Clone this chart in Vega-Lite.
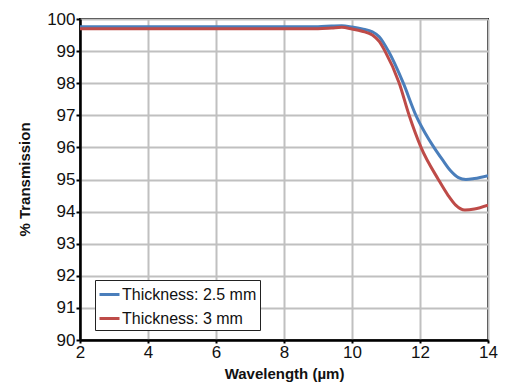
{
  "$schema": "https://vega.github.io/schema/vega-lite/v6.json",
  "width": 408,
  "height": 321,
  "autosize": "none",
  "padding": {"left": 80, "top": 19, "right": 17, "bottom": 43},
  "background": "white",
  "title": {
    "text": "BD-2 Internal Transmission",
    "frame": "group",
    "anchor": "middle",
    "baseline": "alphabetic",
    "offset": 16,
    "font": "Liberation Sans",
    "fontSize": 17,
    "fontWeight": "bold",
    "color": "#111111"
  },
  "config": {
    "view": {"stroke": "black", "strokeWidth": 2},
    "font": "Liberation Sans"
  },
  "data": {
    "values": [
      {"wl": 2, "t": 99.76, "s": "Thickness: 2.5 mm"},
      {"wl": 4, "t": 99.76, "s": "Thickness: 2.5 mm"},
      {"wl": 6, "t": 99.76, "s": "Thickness: 2.5 mm"},
      {"wl": 8, "t": 99.76, "s": "Thickness: 2.5 mm"},
      {"wl": 9, "t": 99.76, "s": "Thickness: 2.5 mm"},
      {"wl": 9.4, "t": 99.78, "s": "Thickness: 2.5 mm"},
      {"wl": 9.7, "t": 99.79, "s": "Thickness: 2.5 mm"},
      {"wl": 10.0, "t": 99.75, "s": "Thickness: 2.5 mm"},
      {"wl": 10.3, "t": 99.69, "s": "Thickness: 2.5 mm"},
      {"wl": 10.6, "t": 99.6, "s": "Thickness: 2.5 mm"},
      {"wl": 10.8, "t": 99.45, "s": "Thickness: 2.5 mm"},
      {"wl": 11.07, "t": 99.0, "s": "Thickness: 2.5 mm"},
      {"wl": 11.51, "t": 98.0, "s": "Thickness: 2.5 mm"},
      {"wl": 11.88, "t": 97.0, "s": "Thickness: 2.5 mm"},
      {"wl": 12.15, "t": 96.45, "s": "Thickness: 2.5 mm"},
      {"wl": 12.41, "t": 96.0, "s": "Thickness: 2.5 mm"},
      {"wl": 12.67, "t": 95.6, "s": "Thickness: 2.5 mm"},
      {"wl": 12.9, "t": 95.27, "s": "Thickness: 2.5 mm"},
      {"wl": 13.13, "t": 95.06, "s": "Thickness: 2.5 mm"},
      {"wl": 13.35, "t": 95.0, "s": "Thickness: 2.5 mm"},
      {"wl": 13.6, "t": 95.03, "s": "Thickness: 2.5 mm"},
      {"wl": 14, "t": 95.12, "s": "Thickness: 2.5 mm"},
      {"wl": 2, "t": 99.7, "s": "Thickness: 3 mm"},
      {"wl": 4, "t": 99.7, "s": "Thickness: 3 mm"},
      {"wl": 6, "t": 99.7, "s": "Thickness: 3 mm"},
      {"wl": 8, "t": 99.7, "s": "Thickness: 3 mm"},
      {"wl": 9, "t": 99.7, "s": "Thickness: 3 mm"},
      {"wl": 9.4, "t": 99.72, "s": "Thickness: 3 mm"},
      {"wl": 9.7, "t": 99.74, "s": "Thickness: 3 mm"},
      {"wl": 10.0, "t": 99.69, "s": "Thickness: 3 mm"},
      {"wl": 10.3, "t": 99.62, "s": "Thickness: 3 mm"},
      {"wl": 10.6, "t": 99.5, "s": "Thickness: 3 mm"},
      {"wl": 10.8, "t": 99.3, "s": "Thickness: 3 mm"},
      {"wl": 10.97, "t": 99.0, "s": "Thickness: 3 mm"},
      {"wl": 11.39, "t": 98.0, "s": "Thickness: 3 mm"},
      {"wl": 11.68, "t": 97.0, "s": "Thickness: 3 mm"},
      {"wl": 12.03, "t": 96.0, "s": "Thickness: 3 mm"},
      {"wl": 12.54, "t": 95.0, "s": "Thickness: 3 mm"},
      {"wl": 12.83, "t": 94.5, "s": "Thickness: 3 mm"},
      {"wl": 13.05, "t": 94.2, "s": "Thickness: 3 mm"},
      {"wl": 13.32, "t": 94.05, "s": "Thickness: 3 mm"},
      {"wl": 13.6, "t": 94.08, "s": "Thickness: 3 mm"},
      {"wl": 14, "t": 94.2, "s": "Thickness: 3 mm"}
    ]
  },
  "mark": {"type": "line", "interpolate": "monotone", "strokeWidth": 3, "clip": true},
  "encoding": {
    "x": {
      "field": "wl",
      "type": "quantitative",
      "scale": {"domain": [2, 14], "nice": false, "zero": false},
      "axis": {
        "title": "Wavelength (µm)",
        "values": [2, 4, 6, 8, 10, 12, 14],
        "grid": true,
        "gridColor": "#c0c0c0",
        "gridWidth": 2,
        "gridOpacity": 1,
        "domainColor": "black",
        "domainWidth": 2.5,
        "tickColor": "black",
        "tickSize": 3,
        "tickWidth": 2,
        "labelFontSize": 17,
        "labelColor": "#111111",
        "labelPadding": 1,
        "labelFlush": false,
        "titleFontSize": 15,
        "titleFontWeight": "bold",
        "titleColor": "#111111",
        "titleX": 204,
        "titleY": 38,
        "titleBaseline": "alphabetic"
      }
    },
    "y": {
      "field": "t",
      "type": "quantitative",
      "scale": {"domain": [90, 100], "nice": false, "zero": false},
      "axis": {
        "title": "% Transmission",
        "values": [90, 91, 92, 93, 94, 95, 96, 97, 98, 99, 100],
        "grid": true,
        "gridColor": "#c0c0c0",
        "gridWidth": 2,
        "gridOpacity": 1,
        "domainColor": "black",
        "domainWidth": 2.5,
        "tickColor": "black",
        "tickSize": 4,
        "tickWidth": 2,
        "labelFontSize": 17,
        "labelColor": "#111111",
        "labelPadding": 1,
        "labelFlush": false,
        "titleFontSize": 15,
        "titleFontWeight": "bold",
        "titleColor": "#111111",
        "titleAngle": -90,
        "titleX": -56,
        "titleY": 160,
        "titleAlign": "center",
        "titleBaseline": "middle"
      }
    },
    "color": {
      "field": "s",
      "type": "nominal",
      "scale": {"domain": ["Thickness: 2.5 mm", "Thickness: 3 mm"], "range": ["#4a7ebb", "#be4b48"]},
      "legend": {
        "title": null,
        "orient": "none",
        "legendX": 15,
        "legendY": 261,
        "strokeColor": "#222222",
        "fillColor": "white",
        "padding": 3,
        "symbolType": "stroke",
        "symbolSize": 400,
        "symbolStrokeWidth": 3,
        "labelFontSize": 16,
        "labelColor": "#111111",
        "labelOffset": 1,
        "rowPadding": 4
      }
    }
  }
}
